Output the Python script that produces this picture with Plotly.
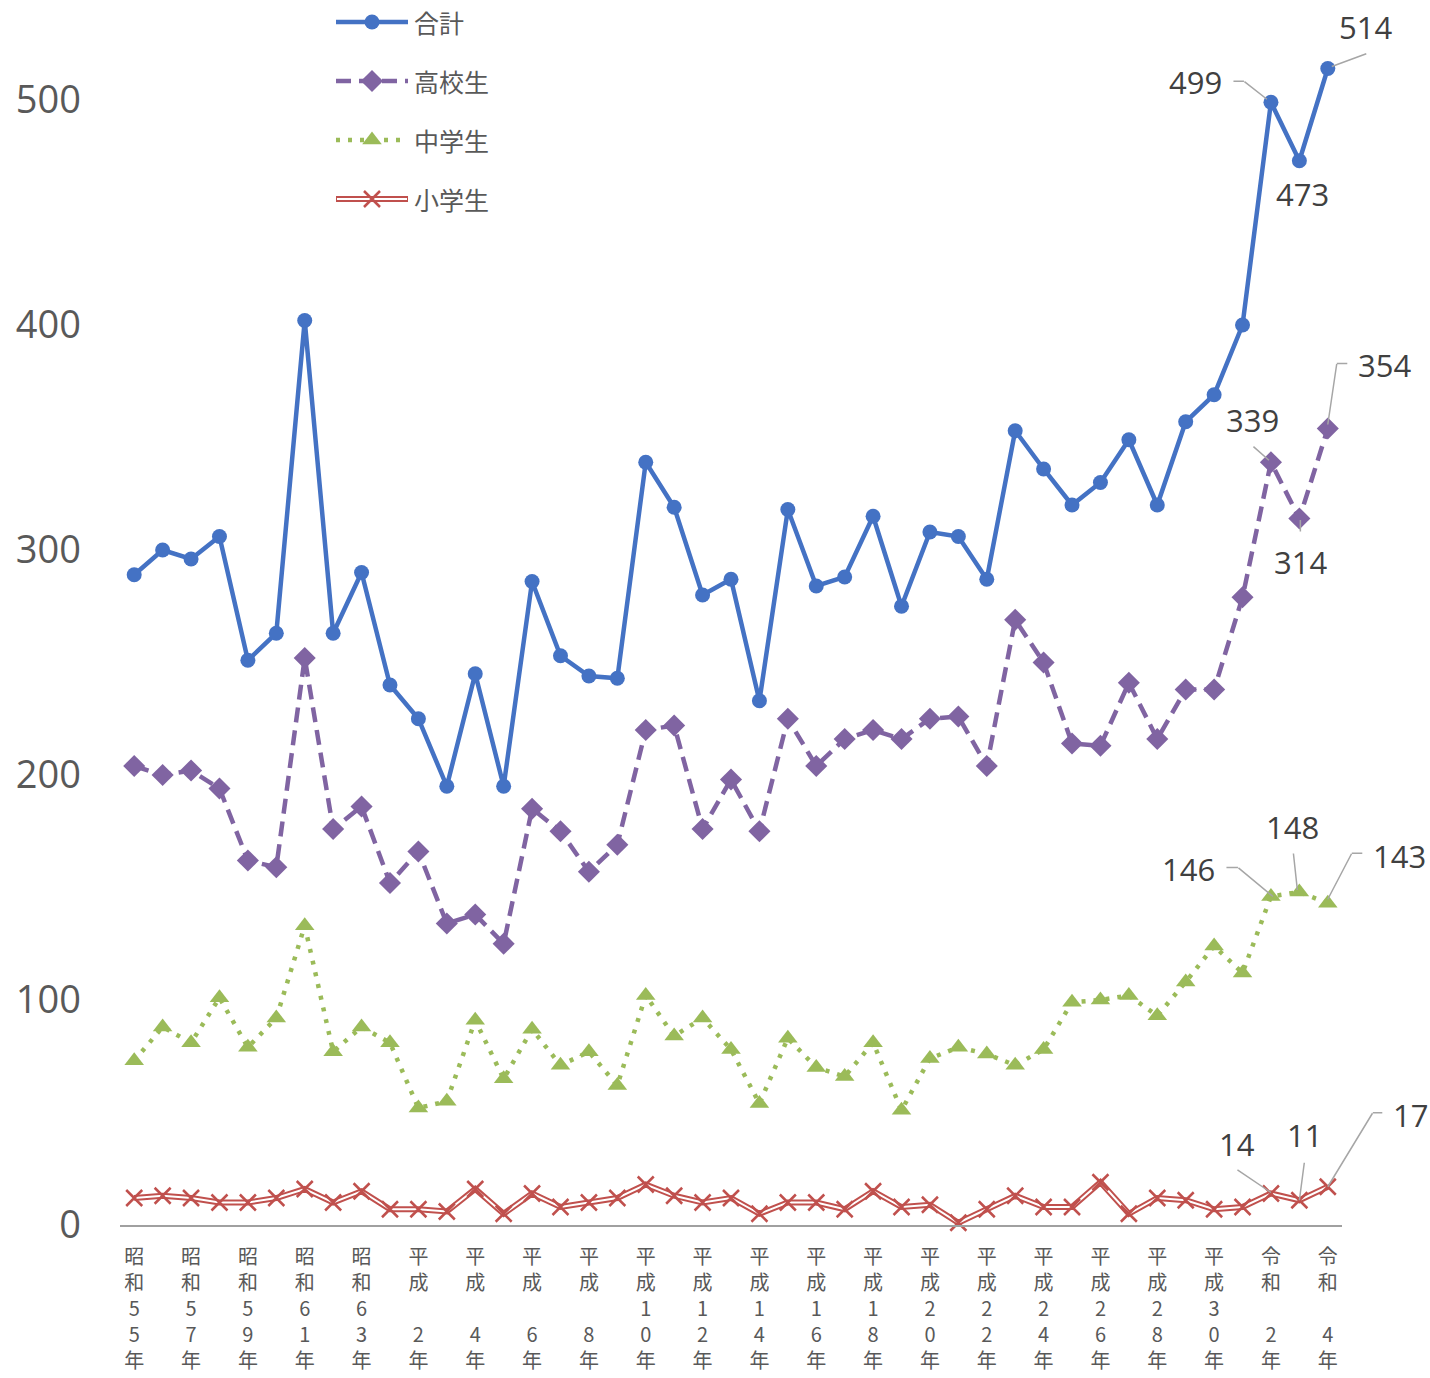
import plotly.graph_objects as go

# ---------------- data ----------------
categories = ["昭和55年", "昭和56年", "昭和57年", "昭和58年", "昭和59年", "昭和60年",
              "昭和61年", "昭和62年", "昭和63年", "平成元年", "平成2年", "平成3年",
              "平成4年", "平成5年", "平成6年", "平成7年", "平成8年", "平成9年",
              "平成10年", "平成11年", "平成12年", "平成13年", "平成14年", "平成15年",
              "平成16年", "平成17年", "平成18年", "平成19年", "平成20年", "平成21年",
              "平成22年", "平成23年", "平成24年", "平成25年", "平成26年", "平成27年",
              "平成28年", "平成29年", "平成30年", "令和元年", "令和2年", "令和3年",
              "令和4年"]

# tick labels shown every other year, as stacked characters (5 rows each)
tick_index = [0, 2, 4, 6, 8, 10, 12, 14, 16, 18, 20, 22, 24, 26, 28, 30, 32, 34, 36, 38, 40, 42]
tick_rows = [
    ["昭", "和", "5", "5", "年"], ["昭", "和", "5", "7", "年"], ["昭", "和", "5", "9", "年"],
    ["昭", "和", "6", "1", "年"], ["昭", "和", "6", "3", "年"], ["平", "成", " ", "2", "年"],
    ["平", "成", " ", "4", "年"], ["平", "成", " ", "6", "年"], ["平", "成", " ", "8", "年"],
    ["平", "成", "1", "0", "年"], ["平", "成", "1", "2", "年"], ["平", "成", "1", "4", "年"],
    ["平", "成", "1", "6", "年"], ["平", "成", "1", "8", "年"], ["平", "成", "2", "0", "年"],
    ["平", "成", "2", "2", "年"], ["平", "成", "2", "4", "年"], ["平", "成", "2", "6", "年"],
    ["平", "成", "2", "8", "年"], ["平", "成", "3", "0", "年"], ["令", "和", " ", "2", "年"],
    ["令", "和", " ", "4", "年"],
]

series_names = ["合計", "高校生", "中学生", "小学生"]

total = [289, 300, 296, 306, 251, 263, 402, 263, 290, 240, 225, 195, 245, 195, 286,
         253, 244, 243, 339, 319, 280, 287, 233, 318, 284, 288, 315, 275, 308, 306,
         287, 353, 336, 320, 330, 349, 320, 357, 369, 400, 499, 473, 514]
high = [204, 200, 202, 194, 162, 159, 252, 176, 186, 152, 166, 134, 138, 125, 185,
        175, 157, 169, 220, 222, 176, 198, 175, 225, 204, 216, 220, 216, 225, 226,
        204, 269, 250, 214, 213, 241, 216, 238, 238, 279, 339, 314, 354]
middle = [73, 88, 81, 101, 79, 92, 133, 77, 88, 81, 52, 55, 91, 65, 87,
          71, 77, 62, 102, 84, 92, 78, 54, 83, 70, 66, 81, 51, 74, 79,
          76, 71, 78, 99, 100, 102, 93, 108, 124, 112, 146, 148, 143]
elem = [12, 13, 12, 10, 10, 12, 16, 10, 15, 7, 7, 6, 16, 5, 14,
        8, 10, 12, 18, 13, 10, 12, 5, 10, 10, 7, 15, 8, 9, 1,
        7, 13, 8, 8, 19, 5, 12, 11, 7, 8, 14, 11, 17]

y_ticks = [0, 100, 200, 300, 400, 500]

# ---------------- styles ----------------
BLUE = "#4472C4"
PURPLE = "#8064A2"
GREEN = "#9BBB59"
RED = "#C0504D"
TXT = "#595959"
LBL = "#404040"
LEAD = "#A6A6A6"
NUMFONT = "Open Sans, Noto Sans, sans-serif"
JPFONT = "Noto Sans CJK JP, Noto Sans, sans-serif"

x = list(range(len(categories)))

fig = go.Figure()

fig.add_trace(go.Scatter(x=x, y=total, mode="lines+markers", name=series_names[0],
                         line=dict(color=BLUE, width=4.5),
                         marker=dict(symbol="circle", size=15, color=BLUE),
                         cliponaxis=False, showlegend=False))
fig.add_trace(go.Scatter(x=x, y=high, mode="lines+markers", name=series_names[1],
                         line=dict(color=PURPLE, width=4.5, dash="15px,8px"),
                         marker=dict(symbol="diamond", size=17, color=PURPLE),
                         cliponaxis=False, showlegend=False))
fig.add_trace(go.Scatter(x=x, y=middle, mode="lines+markers", name=series_names[2],
                         line=dict(color=GREEN, width=4.5, dash="4px,8px"),
                         marker=dict(symbol="triangle-up", size=17, color=GREEN),
                         cliponaxis=False, showlegend=False))
# double (compound) red line: thick red under, thin white on top
fig.add_trace(go.Scatter(x=x, y=elem, mode="lines", name=series_names[3],
                         line=dict(color=RED, width=6),
                         cliponaxis=False, showlegend=False, hoverinfo="skip"))
fig.add_trace(go.Scatter(x=x, y=elem, mode="lines+markers", name=series_names[3],
                         line=dict(color="white", width=2),
                         marker=dict(symbol="x-thin", size=16, color=RED,
                                     line=dict(color=RED, width=2.5)),
                         cliponaxis=False, showlegend=False))

# ---------------- manual legend (overlay pixel axes) ----------------
leg_y = [22, 81, 140, 199]
leg_x0, leg_xm, leg_x1 = 336, 372, 408
leg_styles = [
    dict(line=dict(color=BLUE, width=4.5), marker=dict(symbol="circle", size=15, color=BLUE)),
    dict(line=dict(color=PURPLE, width=4.5, dash="15px,8px"), marker=dict(symbol="diamond", size=17, color=PURPLE)),
    dict(line=dict(color=GREEN, width=4.5, dash="4px,8px"), marker=dict(symbol="triangle-up", size=17, color=GREEN)),
    None,
]
for i, ly in enumerate(leg_y):
    if i < 3:
        st = leg_styles[i]
        fig.add_trace(go.Scatter(x=[leg_x0, leg_x1], y=[ly, ly], mode="lines", line=st["line"],
                                 xaxis="x2", yaxis="y2", showlegend=False, hoverinfo="skip",
                                 cliponaxis=False))
        fig.add_trace(go.Scatter(x=[leg_xm], y=[ly], mode="markers", marker=st["marker"],
                                 xaxis="x2", yaxis="y2", showlegend=False, hoverinfo="skip",
                                 cliponaxis=False))
    else:
        fig.add_trace(go.Scatter(x=[leg_x0, leg_x1], y=[ly, ly], mode="lines",
                                 line=dict(color=RED, width=6),
                                 xaxis="x2", yaxis="y2", showlegend=False, hoverinfo="skip",
                                 cliponaxis=False))
        fig.add_trace(go.Scatter(x=[leg_x0 + 1, leg_x1 - 1], y=[ly, ly], mode="lines",
                                 line=dict(color="white", width=2),
                                 xaxis="x2", yaxis="y2", showlegend=False, hoverinfo="skip",
                                 cliponaxis=False))
        fig.add_trace(go.Scatter(x=[leg_xm], y=[ly], mode="markers",
                                 marker=dict(symbol="x-thin", size=16, color=RED,
                                             line=dict(color=RED, width=2.5)),
                                 xaxis="x2", yaxis="y2", showlegend=False, hoverinfo="skip",
                                 cliponaxis=False))
    fig.add_annotation(x=412, y=ly, xref="x2", yref="y2", text=series_names[i],
                       showarrow=False, xanchor="left", yanchor="middle",
                       font=dict(family=JPFONT, size=25, color=TXT))

# ---------------- data labels with leader lines ----------------
# (series values, point index, label offset dx,dy px (down +), leader polyline in px offsets)
label_specs = [
    (total, 40, (-75, -20), [(-38, -21), (-27, -21), (-4, -3)]),
    (total, 41, (3, 33), None),
    (total, 42, (38, -42), [(39, -15), (4, -2)]),
    (high, 40, (-18, -42), [(-18, -16), (-2, -2)]),
    (high, 41, (1, 43), [(1, 1), (1, 13)]),
    (high, 42, (57, -64), [(20, -65), (9, -65), (0, -4)]),
    (middle, 40, (-82, -28), [(-45, -29), (-33, -29), (2, 0)]),
    (middle, 41, (-7, -65), [(-6, -39), (-2, -2)]),
    (middle, 42, (72, -47), [(35, -50), (24, -50), (0, -4)]),
    (elem, 40, (-34, -50), [(-34, -24), (0, -1)]),
    (elem, 41, (5, -65), [(5, -38), (0, 0)]),
    (elem, 42, (83, -72), [(55, -74), (45, -74), (0, 0)]),
]
for vals, idx, (dx, dy), path in label_specs:
    fig.add_annotation(x=idx, y=vals[idx], xref="x", yref="y", text=str(vals[idx]),
                       showarrow=False, xshift=dx, yshift=-dy,
                       font=dict(family=NUMFONT, size=31, color=LBL))
    if path:
        for (p0x, p0y), (p1x, p1y) in zip(path[:-1], path[1:]):
            # segment drawn as an annotation arrow: head at p1, tail at p0
            fig.add_annotation(x=idx, y=vals[idx], xref="x", yref="y", text="",
                               showarrow=True, arrowhead=0, arrowwidth=1.5,
                               arrowcolor=LEAD, standoff=0, startstandoff=0,
                               xshift=p1x, yshift=-p1y,
                               ax=p0x - p1x, ay=p0y - p1y,
                               font=dict(size=1), borderpad=0)

fig.update_layout(
    width=1430, height=1378,
    margin=dict(l=120, r=88, t=10, b=153),
    paper_bgcolor="white", plot_bgcolor="white",
    showlegend=False,
    xaxis=dict(range=[-0.5, len(categories) - 0.5], showgrid=False, zeroline=False,
               showline=True, linecolor="#A0A0A0", linewidth=2, ticks="",
               tickmode="array", tickvals=tick_index,
               ticktext=["<br>".join(r) for r in tick_rows],
               tickangle=0, ticklabelstandoff=13, automargin=False,
               tickfont=dict(family=JPFONT, size=20, color=TXT), fixedrange=True),
    yaxis=dict(range=[0, 540], tickvals=y_ticks, showgrid=False, zeroline=False,
               showline=False, ticks="", ticklabelstandoff=38, automargin=False,
               tickfont=dict(family=NUMFONT, size=38, color=TXT)),
    xaxis2=dict(overlaying="x", range=[120, 1342], visible=False, fixedrange=True),
    yaxis2=dict(overlaying="y", range=[1225, 10], visible=False, fixedrange=True),
)

fig.write_html("out.html")
